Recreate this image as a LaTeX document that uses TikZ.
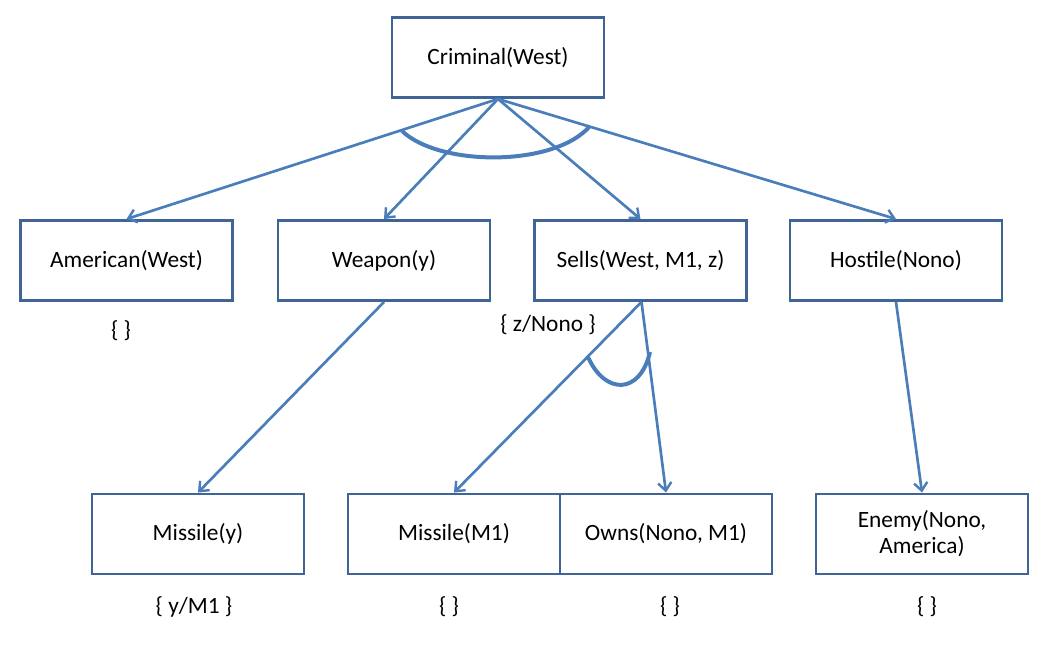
\documentclass[tikz,border=0pt]{standalone}
\usepackage{fontspec}
\setmainfont{Carlito}
\usetikzlibrary{arrows.meta}
\definecolor{boxline}{HTML}{3F6495}
\definecolor{arrowc}{HTML}{4A7EBB}
\tikzset{
  box/.style={draw=boxline, line width=2.2pt, minimum width=159pt, minimum height=60pt, inner sep=0pt, align=center, font=\fontsize{17.5}{19.5}\selectfont},
  conn/.style={draw=arrowc, line width=2pt, -{Straight Barb[length=6pt,width=10pt,line width=1.8pt]}},
  arcl/.style={draw=arrowc, line width=3pt},
  sub/.style={font=\fontsize{17.5}{19.5}\selectfont, inner sep=0pt}
}
\begin{document}
\begin{tikzpicture}[x=0.75pt,y=-0.75pt]
\useasboundingbox (0,0) rectangle (1041,649);
\node[box] (crim) at (498,57.5) {Criminal(West)};
\node[box] (amer) at (126.5,260.5) {American(West)};
\node[box] (weap) at (384,260.5) {Weapon(y)};
\node[box] (sells) at (640.5,260.5) {Sells(West, M1, z)};
\node[box] (host) at (896,260.5) {Hostile(Nono)};
\node[box] (mis1) at (198,534) {Missile(y)};
\node[box] (mis2) at (454,534) {Missile(M1)};
\node[box] (owns) at (666,534) {Owns(Nono, M1)};
\node[box] (enemy) at (922,534) {Enemy(Nono,\\America)};

\draw[conn] (crim.south) -- (amer.north);
\draw[conn] (crim.south) -- (weap.north);
\draw[conn] (crim.south) -- (sells.north);
\draw[conn] (crim.south) -- (host.north);
\draw[conn] (weap.south) -- (mis1.north);
\draw[conn] ([xshift=0.75pt]sells.south) -- (mis2.north);
\draw[conn] ([xshift=0.75pt]sells.south) -- (owns.north);
\draw[conn] (host.south) -- (enemy.north);

\draw[arcl] (402,131) .. controls (440,167) and (555,167) .. (590,126);
\draw[arcl] (588,357) .. controls (605,395) and (640,395) .. (650,352);

\node[sub] (l1) at (121,331) {\{ \}};
\node[sub] (l2) at (548,325) {\{ z/Nono \}};
\node[sub] (l3) at (194,607) {\{ y/M1 \}};
\node[sub] (l4) at (449,607) {\{ \}};
\node[sub] (l5) at (670,607) {\{ \}};
\node[sub] (l6) at (927,607) {\{ \}};
\end{tikzpicture}
\end{document}
